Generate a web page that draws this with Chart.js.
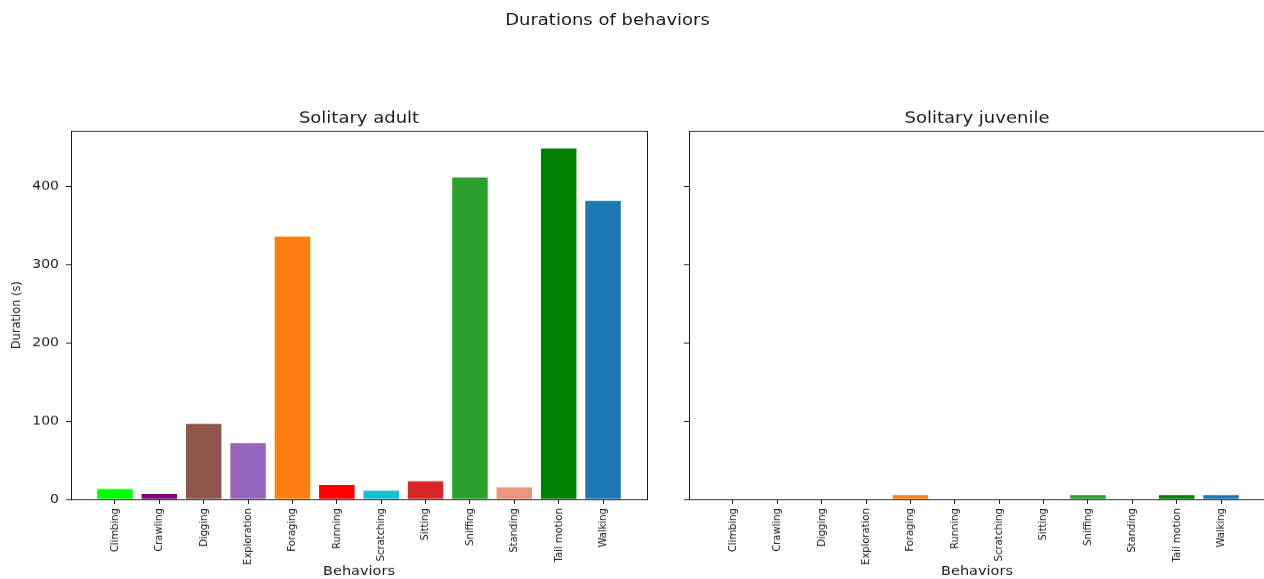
<!DOCTYPE html>
<html>
<head>
<meta charset="utf-8">
<title>Durations of behaviors</title>
<script src="https://cdn.jsdelivr.net/npm/chart.js@4.4.1/dist/chart.umd.min.js"></script>
<style>
  html, body { margin: 0; padding: 0; background: #fff; overflow: hidden; }
  /* figure is laid out on a 1264x651 sheet and shown slightly flattened */
  #figure {
    position: absolute; left: 0; top: 0;
    width: 1264px; height: 651px; overflow: hidden;
    transform: scaleY(0.89); transform-origin: 0 0;
  }
  #suptitle {
    position: absolute; top: 12.9px; left: 607.5px; transform: translateX(-50%);
    font: 18px 'DejaVu Sans', sans-serif; line-height: 18px; color: #1a1a1a; white-space: nowrap;
  }
  #adult { position: absolute; left: 0; top: 0; }
  #juvenile { position: absolute; left: 668px; top: 0; }
</style>
</head>
<body>
<div id="figure">
  <div id="suptitle">Durations of behaviors</div>
  <canvas id="adult" width="668" height="651"></canvas>
  <canvas id="juvenile" width="600" height="651"></canvas>
</div>
<script>
// Behaviour categories (x axis)
const behaviors = ['Climbing', 'Crawling', 'Digging', 'Exploration', 'Foraging', 'Running',
                   'Scratching', 'Sitting', 'Sniffing', 'Standing', 'Tail motion', 'Walking'];

// Total duration of each behaviour, in seconds
const adultDurations    = [13.2, 6.8, 96.4, 71.7, 336.3, 18.3, 11.0, 23.0, 411.8, 15.4, 449.0, 381.7];
const juvenileDurations = [0, 0, 0, 0, 5.5, 0, 0, 0, 5.5, 0, 5.5, 5.5];

// Shared y axis ticks and limits (seconds)
const durationTicks = [0, 100, 200, 300, 400];
const durationMax = 471.3;

// One colour per behaviour
const behaviorColors = ['#00ff00', '#800080', '#8c564b', '#9467bd', '#ff7f0e', '#ff0000',
                        '#17becf', '#d62728', '#2ca02c', '#e9967a', '#008000', '#1f77b4'];

const FONT = "'DejaVu Sans', sans-serif";
const INK = '#1a1a1a';

// Bar positions run 0..11 with a 5% margin around the outer bar edges
const barWidth = 0.8;
const span = (behaviors.length - 1) + barWidth;
const positionMin = -barWidth / 2 - 0.05 * span;
const positionMax = (behaviors.length - 1) + barWidth / 2 + 0.05 * span;

// Draws the four-sided axes box over the plot area
const axesFrame = {
  id: 'axesFrame',
  afterDraw(chart) {
    const { ctx, chartArea: a } = chart;
    const l = Math.round(a.left) + 0.5, r = Math.round(a.right) + 0.5;
    const t = Math.round(a.top) + 0.5, b = Math.round(a.bottom) + 0.5;
    ctx.save();
    ctx.strokeStyle = INK;
    ctx.lineWidth = 1;
    ctx.strokeRect(l, t, r - l, b - t);
    ctx.restore();
  }
};

function makePanel(canvasId, title, values, yAxisWidth, rightPad, showYLabels) {
  return new Chart(document.getElementById(canvasId), {
    type: 'bar',
    data: {
      datasets: [{
        data: values.map((v, i) => ({ x: i, y: v })),
        backgroundColor: behaviorColors,
        borderWidth: 0,
        categoryPercentage: barWidth,
        barPercentage: 1
      }]
    },
    options: {
      responsive: false,
      animation: false,
      events: [],
      layout: { padding: { left: 0, right: rightPad, top: 0, bottom: 0 } },
      plugins: {
        legend: { display: false },
        tooltip: { enabled: false },
        title: {
          display: true,
          text: title,
          fullSize: false,
          color: INK,
          font: { family: FONT, size: 18, weight: 'normal', lineHeight: 1.2 },
          padding: { top: 122.3, bottom: 3.3 }
        }
      },
      scales: {
        x: {
          type: 'linear',
          min: positionMin,
          max: positionMax,
          offset: false,
          afterBuildTicks: s => { s.ticks = behaviors.map((_, i) => ({ value: i })); },
          afterFit: s => { s.height = 90; },
          ticks: {
            autoSkip: false,
            minRotation: 90,
            maxRotation: 90,
            padding: 5,
            color: INK,
            font: { family: FONT, size: 11.2 },
            callback: v => behaviors[v]
          },
          grid: { display: true, drawOnChartArea: false, drawTicks: true, tickLength: 5,
                  color: INK, lineWidth: 1, offset: false },
          border: { display: false },
          title: {
            display: true,
            text: 'Behaviors',
            color: INK,
            font: { family: FONT, size: 14.5 },
            padding: { top: 0, bottom: 0 }
          }
        },
        y: {
          type: 'linear',
          min: 0,
          max: durationMax,
          afterBuildTicks: s => { s.ticks = durationTicks.map(v => ({ value: v })); },
          afterFit: s => { s.width = yAxisWidth; },
          ticks: {
            display: showYLabels,
            padding: 7,
            color: INK,
            font: { family: FONT, size: 14 }
          },
          grid: { display: true, drawOnChartArea: false, drawTicks: true, tickLength: 5,
                  color: INK, lineWidth: 1 },
          border: { display: false },
          title: {
            display: showYLabels,
            text: 'Duration (s)',
            color: INK,
            font: { family: FONT, size: 12.8 },
            padding: { top: 8.8, bottom: 0 }
          }
        }
      }
    },
    plugins: [axesFrame]
  });
}

makePanel('adult', 'Solitary adult', adultDurations, 71, 21, true);
makePanel('juvenile', 'Solitary juvenile', juvenileDurations, 21, 3, false);
</script>
</body>
</html>
